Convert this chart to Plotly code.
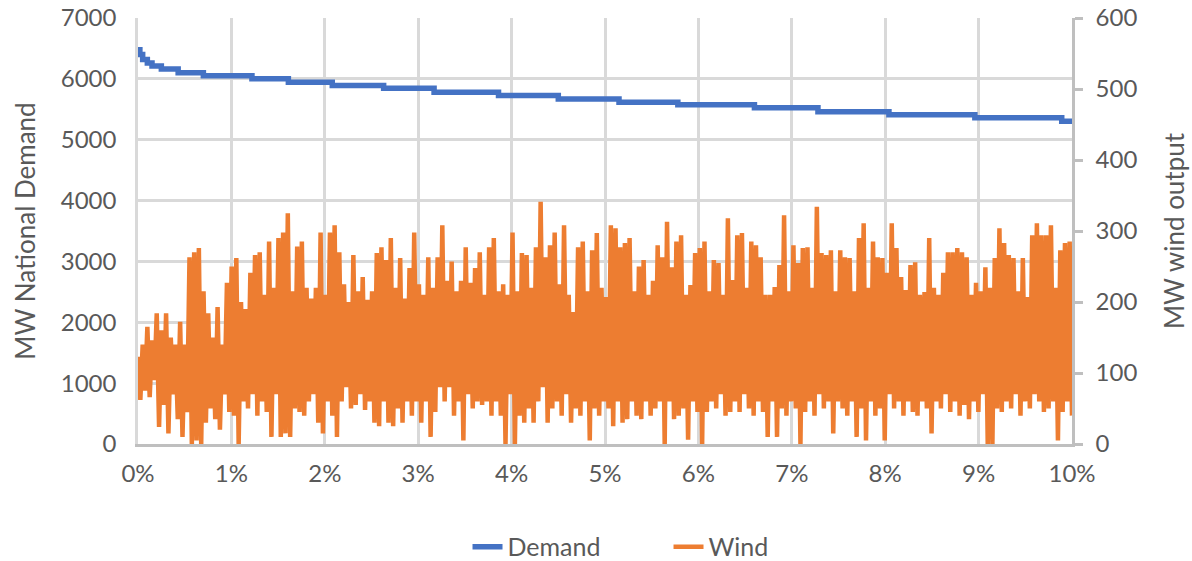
import numpy as np
import plotly.graph_objects as go

# Demand (load duration, stepwise) : breakpoints in % of hours and MW
demand_pct = [0, 0.02, 0.05, 0.10, 0.15, 0.25, 0.43, 0.70, 1.22, 1.61, 2.08, 2.63,
              3.17, 3.86, 4.50, 5.15, 5.78, 6.60, 7.28, 8.04, 8.96, 9.89, 10.0]
demand_mw = [6480, 6400, 6320, 6260, 6210, 6160, 6100, 6050, 6000, 5945, 5890, 5845,
             5780, 5725, 5670, 5615, 5575, 5525, 5460, 5410, 5360, 5305, 5305]

# Wind output (MW), in time order across 0-10 %
wind_mw = [
    123, 62, 140, 75, 165, 66, 146, 90, 184, 24, 160, 55, 184, 15, 150, 70, 140, 35, 172, 10,
    140, 45, 263, 0, 270, 5, 276, 0, 215, 30, 184, 50, 150, 35, 193, 20, 140, 70, 227, 45,
    250, 40, 262, 0, 200, 60, 190, 50, 241, 70, 266, 40, 270, 60, 210, 45, 285, 10, 220, 70,
    290, 10, 298, 15, 325, 10, 215, 50, 278, 45, 285, 40, 220, 60, 205, 70, 220, 30, 298, 15,
    210, 60, 298, 40, 308, 10, 270, 60, 225, 80, 200, 50, 266, 55, 215, 70, 235, 48, 203, 60,
    215, 30, 269, 25, 277, 60, 259, 30, 290, 25, 220, 50, 262, 30, 205, 60, 248, 40, 298, 60,
    225, 30, 210, 60, 263, 10, 220, 45, 263, 80, 308, 60, 230, 80, 257, 40, 215, 60, 230, 5,
    277, 70, 227, 50, 248, 60, 270, 55, 210, 60, 277, 40, 290, 60, 215, 40, 225, 0, 210, 70,
    298, 0, 215, 40, 269, 30, 266, 50, 220, 30, 277, 60, 341, 80, 263, 30, 280, 50, 298, 60,
    225, 40, 308, 70, 210, 30, 186, 50, 277, 40, 285, 60, 215, 5, 273, 50, 297, 40, 220, 60,
    207, 50, 308, 25, 304, 60, 277, 30, 283, 35, 290, 60, 215, 40, 250, 35, 259, 60, 210, 40,
    230, 50, 280, 60, 263, 0, 313, 60, 249, 35, 285, 40, 294, 50, 210, 6, 224, 60, 269, 45,
    276, 0, 285, 45, 215, 60, 259, 50, 255, 70, 210, 40, 318, 45, 231, 60, 294, 45, 297, 70,
    220, 50, 285, 40, 280, 60, 263, 45, 210, 10, 210, 60, 221, 10, 252, 50, 322, 40, 215, 60,
    280, 50, 255, 0, 276, 45, 277, 60, 220, 40, 334, 70, 269, 50, 266, 60, 273, 15, 215, 60,
    273, 50, 263, 40, 262, 60, 215, 10, 290, 50, 311, 5, 220, 60, 285, 40, 263, 50, 262, 5,
    241, 70, 311, 50, 276, 60, 235, 40, 217, 60, 252, 45, 256, 40, 210, 60, 214, 50, 290, 15,
    220, 60, 210, 50, 241, 70, 270, 45, 270, 60, 276, 40, 270, 55, 263, 35, 210, 60, 227, 45,
    215, 70, 249, 0, 220, 0, 262, 50, 304, 45, 283, 60, 266, 50, 262, 70, 215, 40, 262, 60,
    207, 50, 294, 70, 311, 60, 294, 45, 294, 50, 308, 60, 220, 5, 273, 45, 283, 60, 285, 40,
]

x_ticks = list(range(0, 11))
left_ticks = list(range(0, 7001, 1000))
right_ticks = list(range(0, 601, 100))

wind_pct = np.linspace(0, 10, len(wind_mw))

FONT = "Lato"
GREY = "#595959"

fig = go.Figure()
fig.add_trace(go.Scatter(
    x=demand_pct, y=demand_mw, name="Demand", mode="lines",
    line=dict(color="#4472C4", width=5.5, shape="hv"), yaxis="y",
))
fig.add_trace(go.Scatter(
    x=wind_pct, y=wind_mw, name="Wind", mode="lines",
    line=dict(color="#ED7D31", width=4.5), yaxis="y2",
))

fig.update_layout(
    width=1192, height=561,
    margin=dict(l=138, r=120, t=18, b=117),
    paper_bgcolor="white", plot_bgcolor="white",
    font=dict(family=FONT, size=24, color=GREY),
    xaxis=dict(
        range=[0, 10], tickvals=x_ticks, ticktext=[f"{v}%" for v in x_ticks],
        showgrid=True, gridcolor="#D9D9D9", gridwidth=2.5,
        showline=True, linecolor="#BFBFBF", linewidth=2.5,
        zeroline=False, ticks="", ticklabelstandoff=6, automargin=False,
        tickfont=dict(size=24, color=GREY),
    ),
    yaxis=dict(
        range=[0, 7000], tickvals=left_ticks,
        showgrid=True, gridcolor="#D9D9D9", gridwidth=2.5,
        showline=True, linecolor="#D9D9D9", linewidth=2.5,
        zeroline=False, ticks="", ticklabelstandoff=14, automargin=False,
        tickfont=dict(size=24, color=GREY),
        title=dict(text="MW National Demand", font=dict(size=26, color=GREY), standoff=18),
    ),
    yaxis2=dict(
        range=[0, 600], tickvals=right_ticks, overlaying="y", side="right",
        showgrid=False, zeroline=False, automargin=False,
        showline=True, linecolor="#BFBFBF", linewidth=2.5,
        ticks="outside", ticklen=8, tickcolor="#BFBFBF", tickwidth=2.5,
        ticklabelstandoff=8,
        tickfont=dict(size=24, color=GREY),
        title=dict(text="MW wind output", font=dict(size=26, color=GREY), standoff=30),
    ),
    legend=dict(
        orientation="h", x=0.568, xanchor="center",
        yref="container", y=0.025, yanchor="middle",
        font=dict(size=25, color=GREY), bgcolor="rgba(0,0,0,0)",
        entrywidth=156, entrywidthmode="pixels",
    ),
    showlegend=True,
)

# remove the default page margin so the figure sits at the window's top-left corner
fig.write_html(
    "out.html",
    config={"displayModeBar": False},
    post_script="document.body.style.margin='0';",
)
